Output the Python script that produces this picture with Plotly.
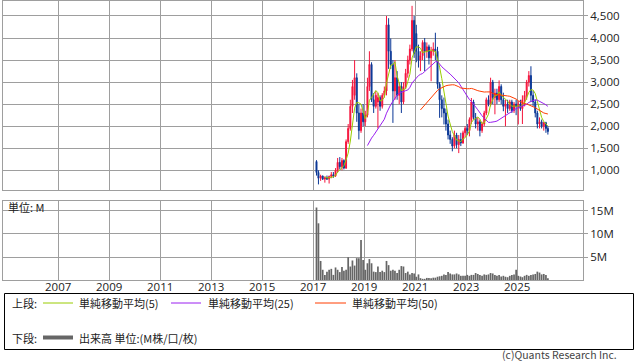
import pandas as pd
import plotly.graph_objects as go

# ---------------- data (monthly) ----------------
months = pd.date_range("2017-02-01", periods=110, freq="MS") + pd.Timedelta(days=14)

opens = [1200, 950, 820, 870, 800, 830, 800, 860, 900, 870,
         1000, 1180, 1080, 1220, 1050, 1650, 1950, 2450, 2700, 3100,
         2300, 1900, 2300, 2100, 2250, 2900, 3400, 2600, 2450, 2550,
         2650, 2450, 2700, 2800, 4300, 3700, 3400, 2800, 3100, 2700,
         2900, 2550, 2900, 3200, 3500, 3750, 4400, 4100, 3700, 3500,
         3600, 3900, 3700, 3800, 3550, 3700, 3750, 3700, 2950, 2600,
         2400, 2300, 2050, 1800, 1700, 1550, 1800, 1580, 1700, 1620,
         1850, 1950, 1900, 2150, 2550, 2200, 2050, 2100, 1900, 2050,
         2300, 2600, 2500, 3000, 2650, 2750, 2600, 2900, 2600, 2450,
         2500, 2400, 2550, 2350, 2500, 2450, 2500, 2400, 2600, 2700,
         3000, 3150, 2700, 2550, 2300, 2050, 2100, 2000, 2080, 1950]
highs = [1230, 1000, 900, 880, 860, 880, 880, 960, 960, 1050,
         1280, 1300, 1280, 1250, 1700, 2050, 2600, 3050, 3500, 3200,
         2500, 2400, 2500, 2350, 3100, 3700, 3450, 2750, 2800, 2750,
         2700, 2750, 2900, 4500, 4450, 3990, 3500, 3500, 3250, 3000,
         3000, 3000, 3300, 3600, 3850, 4730, 4500, 4300, 3850, 3700,
         3950, 4000, 3900, 3850, 3800, 3900, 4120, 3800, 3000, 2700,
         2650, 2400, 2150, 1900, 1750, 1900, 1850, 1800, 1850, 1900,
         2000, 2050, 2200, 2640, 2600, 2300, 2200, 2150, 2100, 2350,
         2650, 2700, 3100, 3050, 2850, 2850, 3040, 2950, 2760, 2600,
         2600, 2600, 2600, 2550, 2600, 2570, 2600, 2700, 2800, 3050,
         3250, 3360, 2800, 2600, 2350, 2200, 2150, 2100, 2100, 2000]
lows = [880, 680, 760, 780, 720, 780, 700, 820, 830, 850,
        950, 1020, 1000, 1020, 1030, 1600, 1900, 2300, 2600, 2100,
        1700, 1850, 2000, 2000, 2200, 2800, 2550, 2300, 2400, 1950,
        2350, 2400, 2650, 2700, 3300, 3300, 2075, 2600, 2600, 2500,
        2300, 2500, 2850, 3100, 3400, 3700, 3550, 3450, 3330, 3250,
        3500, 3250, 3550, 3400, 3020, 3600, 3500, 2850, 2190, 2200,
        2040, 1900, 1700, 1600, 1430, 1500, 1500, 1390, 1550, 1600,
        1750, 1800, 1770, 2050, 2150, 1950, 1900, 1770, 1850, 2000,
        2250, 2450, 2450, 2500, 2270, 2500, 2550, 2500, 2340, 2000,
        2300, 2350, 2300, 2300, 2250, 2040, 2350, 2050, 2450, 2600,
        2900, 2550, 2450, 2200, 1950, 1950, 1950, 1900, 1850, 1810]
closes = [950, 820, 870, 800, 830, 800, 860, 900, 870, 1000,
          1180, 1080, 1220, 1050, 1650, 1950, 2450, 2900, 3100, 2300,
          1900, 2300, 2100, 2250, 2900, 3400, 2600, 2450, 2700, 2650,
          2450, 2700, 2800, 4300, 3700, 3400, 2800, 3100, 2700, 2900,
          2550, 2900, 3200, 3500, 3750, 4400, 3650, 3700, 3500, 3600,
          3900, 3700, 3800, 3550, 3700, 3750, 3700, 2950, 2600, 2400,
          2300, 2050, 1800, 1700, 1550, 1800, 1580, 1700, 1620, 1850,
          1950, 1900, 2150, 2550, 2200, 2050, 2100, 1900, 2050, 2300,
          2600, 2500, 3000, 2650, 2750, 2600, 2900, 2600, 2450, 2500,
          2400, 2550, 2350, 2500, 2450, 2500, 2400, 2600, 2700, 3000,
          3150, 2700, 2550, 2300, 2050, 2100, 2000, 2080, 1950, 1880]
volumes_m = [15.7, 12.3, 4.2, 2.3, 1.2, 1.9, 2.3, 2.5, 1.2, 2.8,
             2.3, 1.8, 2.9, 2.1, 2.3, 5.0, 3.0, 4.3, 3.2, 4.8,
             4.8, 8.7, 4.4, 2.3, 3.7, 4.6, 3.7, 1.9, 1.8, 3.0,
             1.8, 2.1, 1.8, 4.2, 3.3, 2.1, 2.3, 2.1, 1.6, 2.3,
             3.1, 3.0, 1.6, 1.9, 1.3, 1.6, 1.5, 0.8, 1.3, 0.5,
             0.35, 0.35, 0.55, 0.55, 0.5, 0.6, 0.6, 0.8, 0.9, 1.0,
             1.3, 1.2, 1.8, 1.5, 1.3, 1.3, 1.5, 1.3, 1.0, 1.0,
             1.0, 1.2, 1.0, 1.2, 1.2, 1.6, 1.4, 1.2, 1.0, 1.3,
             1.2, 1.3, 1.6, 1.5, 1.2, 1.0, 1.2, 0.85, 1.0, 0.8,
             0.7, 1.0, 1.2, 1.3, 2.3, 1.0, 0.85, 0.7, 1.0, 1.2,
             1.0, 1.2, 1.3, 1.4, 1.9, 1.7, 1.3, 1.4, 1.2, 0.5]

year_ticks = [str(y) for y in range(2007, 2026, 2)]
price_ticks = [1000, 1500, 2000, 2500, 3000, 3500, 4000, 4500]
vol_ticks = [5e6, 10e6, 15e6]
vol_tick_labels = ["5M", "10M", "15M"]
ma_periods = [5, 25, 50]
ma_colors = ["#99CC00", "#9A1EF0", "#FF3C00"]
ma_labels = ["単純移動平均(5)", "単純移動平均(25)", "単純移動平均(50)"]

# ---------------- figure ----------------
W, H = 638, 362
ML, MR, MT, MB = 3, 55, 1, 82
PW, PH = W - ML - MR, H - MT - MB


def px2x(px):
    return (px - ML) / PW


def px2y(py):
    return (MT + PH - py) / PH


FONT = "Noto Sans CJK JP"
NUMFONT = "Open Sans"
GRID = "#9E9E9E"
TXT = "#222222"

close_s = pd.Series(closes, index=months)

fig = go.Figure()
fig.add_trace(go.Candlestick(
    x=months, open=opens, high=highs, low=lows, close=closes,
    increasing=dict(line=dict(color="#F5143C", width=1), fillcolor="#F5143C"),
    decreasing=dict(line=dict(color="#0A3796", width=1), fillcolor="#0A3796"),
    whiskerwidth=0, showlegend=False, xaxis="x", yaxis="y",
))
for p, c in zip(ma_periods, ma_colors):
    ma = close_s.rolling(p).mean()
    fig.add_trace(go.Scatter(x=months, y=ma, mode="lines",
                             line=dict(color=c, width=1),
                             showlegend=False, xaxis="x", yaxis="y"))

fig.add_trace(go.Bar(x=months, y=[v * 1e6 for v in volumes_m],
                     marker=dict(color="#666666", line=dict(width=0)),
                     showlegend=False, xaxis="x2", yaxis="y2"))

xr = ["2004-10-30", "2027-07-31"]
tickdates = [f"{y}-01-01" for y in year_ticks]
tickfont = dict(family=NUMFONT, size=11.5, color=TXT)

fig.update_layout(
    width=W, height=H,
    margin=dict(l=ML, r=MR, t=MT, b=MB),
    paper_bgcolor="white", plot_bgcolor="white",
    font=dict(family=FONT, size=11, color=TXT),
    bargap=0.12,
    xaxis=dict(domain=[0, 1], range=xr, type="date", anchor="y",
               tickvals=tickdates, showticklabels=False, ticks="",
               showgrid=True, gridcolor=GRID, gridwidth=1,
               showline=True, linecolor=GRID, linewidth=1, mirror=True,
               rangeslider=dict(visible=False), zeroline=False),
    yaxis=dict(domain=[px2y(190), 1], range=[553, 4840], side="right",
               tickvals=price_ticks, tickformat=",", ticks="outside",
               ticklen=4, tickcolor=GRID,
               showgrid=True, gridcolor=GRID, gridwidth=1,
               showline=True, linecolor=GRID, linewidth=1, mirror=True,
               zeroline=False, anchor="x", tickfont=tickfont),
    xaxis2=dict(domain=[0, 1], range=xr, type="date", anchor="y2",
                tickvals=tickdates, showticklabels=False, ticks="",
                showgrid=True, gridcolor=GRID, gridwidth=1,
                showline=True, linecolor=GRID, linewidth=1, mirror=True,
                zeroline=False),
    yaxis2=dict(domain=[0, px2y(201)], range=[0.1e6, 17.1e6], side="right",
                tickvals=vol_ticks, ticktext=vol_tick_labels, ticks="outside",
                ticklen=4, tickcolor=GRID,
                showgrid=True, gridcolor=GRID, gridwidth=1,
                showline=True, linecolor=GRID, linewidth=1, mirror=True,
                zeroline=False, anchor="x2", tickfont=tickfont),
)

shapes = []
annotations = []

# year labels under the volume panel (placed on the x2 date axis)
for d, t in zip(tickdates, year_ticks):
    annotations.append(dict(x=d, xref="x2", y=px2y(286.5), yref="paper",
                            text=t, showarrow=False, xanchor="center",
                            yanchor="middle", borderpad=0, font=tickfont))


def label(px, py, text, anchor="left", size=11, color=TXT):
    annotations.append(dict(x=px2x(px), y=px2y(py), xref="paper", yref="paper",
                            text=text, showarrow=False, xanchor=anchor,
                            yanchor="middle", borderpad=0,
                            font=dict(size=size, color=color)))


# unit label in volume panel
label(7, 207.5, "単位: M")

# legend box
shapes.append(dict(type="rect", xref="paper", yref="paper",
                   x0=px2x(4.5), x1=px2x(633.5), y0=px2y(293.5), y1=px2y(349.5),
                   line=dict(color="#000000", width=1), fillcolor="rgba(0,0,0,0)"))

row1, row2 = 303, 337.5
label(11, row1, "上段:")
line_x = [(43, 73), (171, 201), (315, 346)]
text_x = [78, 207, 351]
for (a, b), tx, c, lab in zip(line_x, text_x, ma_colors, ma_labels):
    shapes.append(dict(type="line", xref="paper", yref="paper",
                       x0=px2x(a), x1=px2x(b), y0=px2y(row1), y1=px2y(row1),
                       line=dict(color=c, width=1)))
    label(tx, row1, lab)

label(11, row2, "下段:")
shapes.append(dict(type="line", xref="paper", yref="paper",
                   x0=px2x(43), x1=px2x(73), y0=px2y(row2), y1=px2y(row2),
                   line=dict(color="#666666", width=4)))
label(78, row2, "出来高 単位:(M株/口/枚)")

label(618, 354.5, "(c)Quants Research Inc.", anchor="right", size=10.5, color="#444444")

fig.update_layout(shapes=shapes, annotations=annotations)
fig.write_html("out.html",
               config={"displayModeBar": False, "staticPlot": True},
               post_script="document.body.style.margin='0';document.body.style.overflow='hidden';")
